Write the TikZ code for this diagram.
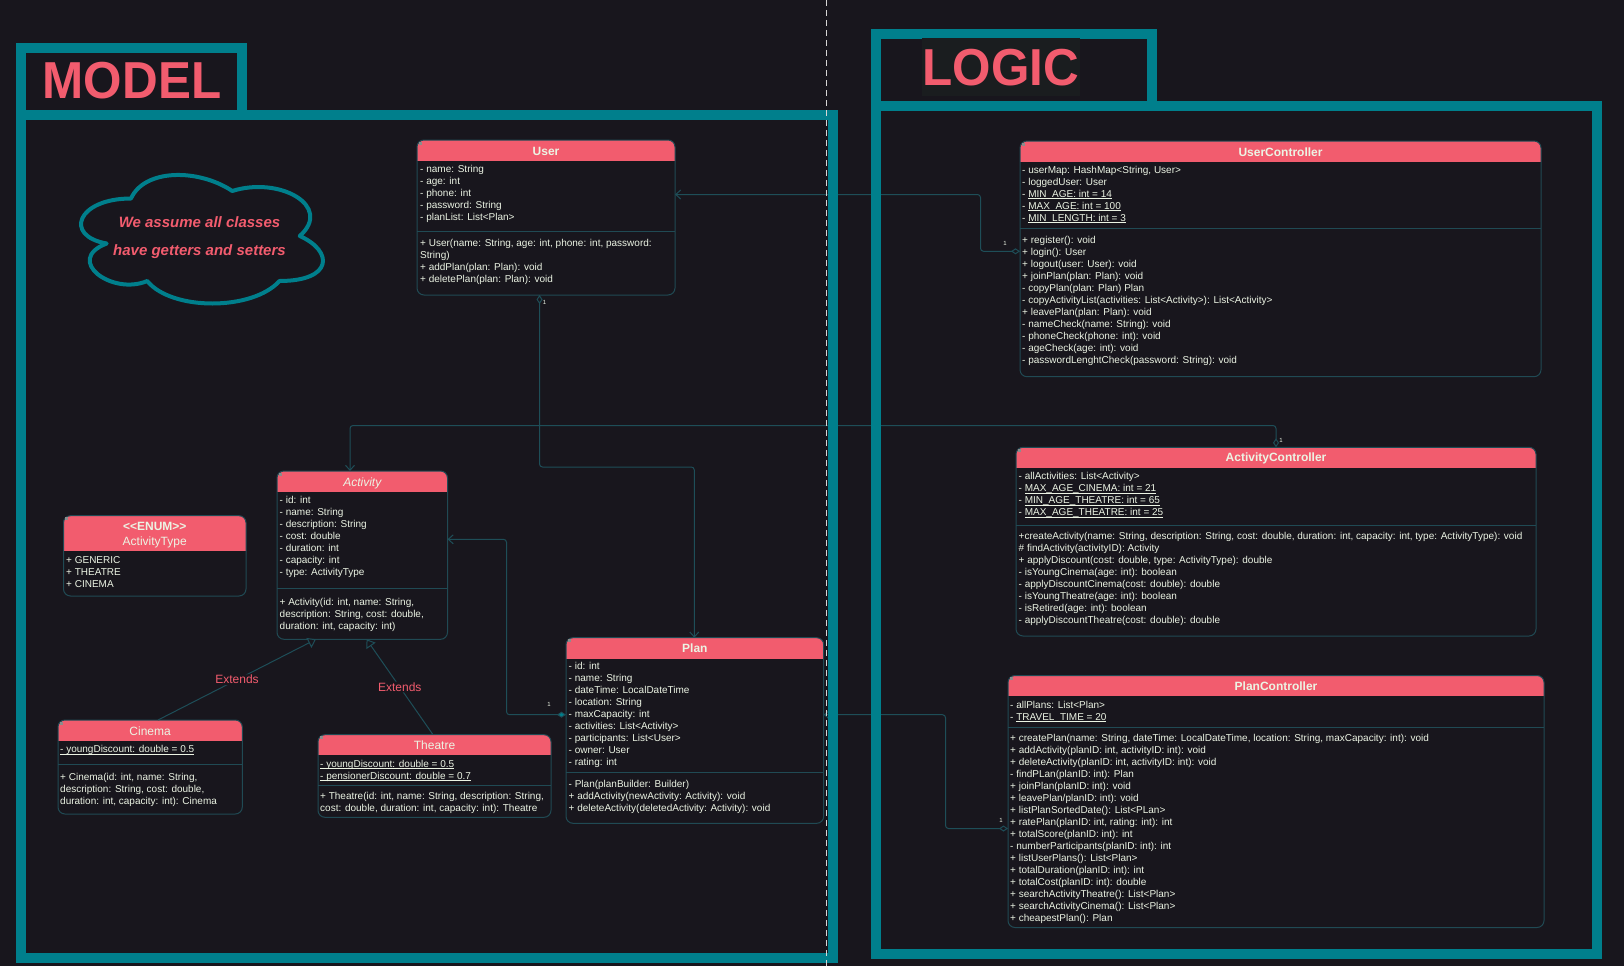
\documentclass[tikz,border=0pt]{standalone}
\usepackage{fontspec}
\setmainfont{Liberation Sans}
\usepackage{graphicx}
\usetikzlibrary{arrows.meta,fit,calc}
\definecolor{bgc}{RGB}{24,22,29}
\definecolor{tealc}{RGB}{0,127,140}
\definecolor{pinkc}{RGB}{242,92,110}
\definecolor{fgc}{RGB}{236,244,228}
\definecolor{bordc}{RGB}{32,74,84}
\definecolor{connc}{RGB}{30,78,88}
\definecolor{logicbg}{RGB}{26,29,31}
\definecolor{dashc}{RGB}{215,215,215}
\definecolor{collc}{RGB}{140,140,140}
\newcommand\ulx[1]{\setbox0\hbox{#1}\rlap{\rule[-1.4pt]{\wd0}{0.6pt}}\box0}
\tikzset{
  conn/.style={draw=connc, line width=1pt, rounded corners=3pt},
  agg/.style={conn, {Diamond[length=9pt,width=6pt,fill=bgc]}-{Straight Barb[length=5pt,width=9pt]}},
  comp/.style={conn, {Diamond[length=9pt,width=6pt,fill=tealc]}-{Straight Barb[length=5pt,width=9pt]}},
  gen/.style={conn, -{Triangle[length=8pt,width=11pt,fill=bgc]}},
  classbox/.style={draw=bordc, line width=1pt, rounded corners=7pt, inner sep=0pt, outer sep=0pt},
  sepl/.style={draw=bordc, line width=1pt},
  txt/.style={font=\fontsize{10}{12}\selectfont, text=fgc, align=left, inner sep=0pt, anchor=north west},
  ttl/.style={font=\fontsize{12}{14}\selectfont\bfseries, text=fgc, inner sep=0pt, anchor=base},
  ttln/.style={font=\fontsize{12}{14}\selectfont, text=fgc, inner sep=0pt, anchor=base},
  ttli/.style={font=\fontsize{12}{14}\selectfont\itshape, text=fgc, inner sep=0pt, anchor=base},
  mult/.style={font=\fontsize{6}{6}\selectfont, text=fgc, inner sep=0pt},
  lbl/.style={font=\fontsize{12}{14}\selectfont, text=pinkc, fill=bgc, inner sep=1pt},
  frame/.style={draw=tealc, line width=10pt},
  bigtitle/.style={font=\fontsize{52}{60}\selectfont\bfseries, text=pinkc, inner sep=0pt, anchor=base},
  notetxt/.style={font=\fontsize{15}{18}\selectfont\bfseries\itshape, text=pinkc, inner sep=0pt, anchor=base},
}
\newcommand\umlbox[6]{%
  \begin{scope}
    \clip (#2,#3) rectangle (#4,#6);
    \fill[pinkc, rounded corners=7pt] (#2,#3) rectangle (#4,#6+20);
  \end{scope}
  \node[classbox, fit={(#2,#3)(#4,#5)}] (#1) {};
  \fill[collc] (#2+1.5,#3+1.5) rectangle ++(3,3);
}
\begin{document}
\begin{tikzpicture}[x=1pt,y=-1pt]
\fill[bgc] (0,0) rectangle (1624,966);
\useasboundingbox (0,0) rectangle (1624,966);

% cloud note
\draw[tealc, line width=4pt, line join=round] (131,198.5) .. controls (77,198.5) and (63.5,236) .. (106.7,243.5) .. controls (63.5,260) and (112.1,296) .. (147.2,281) .. controls (171.5,311) and (252.5,311) .. (279.5,281) .. controls (333.5,281) and (333.5,251) .. (299.75,236) .. controls (333.5,206) and (279.5,176) .. (232.25,191) .. controls (198.5,168.5) and (144.5,168.5) .. (131,198.5) -- cycle;
\node[notetxt] (note1) at (199.5,227.4) {We assume all classes};
\node[notetxt] (note2) at (199.5,255.4) {have getters and setters};

% User
\umlbox{user}{417}{140}{675}{295}{160}
\draw[sepl] (417,231.7) -- (675,231.7);
\node[ttl] (user-t) at (546,155) {User};
\node[txt] (user-a) at (420,163.5) {\strut- name: String\\- age: int\\- phone: int\\- password: String\\- planList: List<Plan>};
\node[txt] (user-m) at (420,237.9) {\strut+ User(name: String, age: int, phone: int, password:\\String)\\+ addPlan(plan: Plan): void\\+ deletePlan(plan: Plan): void};

% UserController
\umlbox{uc}{1020}{141}{1541}{376.7}{161}
\draw[sepl] (1020,228.3) -- (1541,228.3);
\node[ttl] (uc-t) at (1280.5,156) {UserController};
\node[txt] (uc-a) at (1022,164.5) {\strut- userMap: HashMap<String, User>\\- loggedUser: User\\- \ulx{MIN\_AGE: int = 14}\\- \ulx{MAX\_AGE: int = 100}\\- \ulx{MIN\_LENGTH: int = 3}};
\node[txt] (uc-m) at (1022,234.5) {\strut+ register(): void\\+ login(): User\\+ logout(user: User): void\\+ joinPlan(plan: Plan): void\\- copyPlan(plan: Plan) Plan\\- copyActivityList(activities: List<Activity>): List<Activity>\\+ leavePlan(plan: Plan): void\\- nameCheck(name: String): void\\- phoneCheck(phone: int): void\\- ageCheck(age: int): void\\- passwordLenghtCheck(password: String): void};

% ActivityController
\umlbox{ac}{1016}{447.3}{1536}{636}{467.7}
\draw[sepl] (1016,525) -- (1536,525);
\node[ttl] (ac-t) at (1276,461.6) {ActivityController};
\node[txt] (ac-a) at (1018.5,471.2) {\strut- allActivities: List<Activity>\\- \ulx{MAX\_AGE\_CINEMA: int = 21}\\- \ulx{MIN\_AGE\_THEATRE: int = 65}\\- \ulx{MAX\_AGE\_THEATRE: int = 25}};
\node[txt] (ac-m) at (1018.5,530.9) {\strut+createActivity(name: String, description: String, cost: double, duration: int, capacity: int, type: ActivityType): void\\\# findActivity(activityID): Activity\\+ applyDiscount(cost: double, type: ActivityType): double\\- isYoungCinema(age: int): boolean\\- applyDiscountCinema(cost: double): double\\- isYoungTheatre(age: int): boolean\\- isRetired(age: int): boolean\\- applyDiscountTheatre(cost: double): double};

% PlanController
\umlbox{pc}{1008}{675.5}{1544}{927.5}{695}
\draw[sepl] (1008,727.3) -- (1544,727.3);
\node[ttl] (pc-t) at (1276,690) {PlanController};
\node[txt] (pc-a) at (1010,699.5) {\strut- allPlans: List<Plan>\\- \ulx{TRAVEL\_TIME = 20}};
\node[txt] (pc-m) at (1010,732.9) {\strut+ createPlan(name: String, dateTime: LocalDateTime, location: String, maxCapacity: int): void\\+ addActivity(planID: int, activityID: int): void\\+ deleteActivity(planID: int, activityID: int): void\\- findPLan(planID: int): Plan\\+ joinPlan(planID: int): void\\+ leavePlan/planID: int): void\\+ listPlanSortedDate(): List<PLan>\\+ ratePlan(planID: int, rating: int): int\\+ totalScore(planID: int): int\\- numberParticipants(planID: int): int\\+ listUserPlans(): List<Plan>\\+ totalDuration(planID: int): int\\+ totalCost(planID: int): double\\+ searchActivityTheatre(): List<Plan>\\+ searchActivityCinema(): List<Plan>\\+ cheapestPlan(): Plan};

% Activity
\umlbox{act}{277}{471}{447.5}{639.3}{491}
\draw[sepl] (277,588.3) -- (447.5,588.3);
\node[ttli] (act-t) at (362.25,486) {Activity};
\node[txt] (act-a) at (279.5,494.5) {\strut- id: int\\- name: String\\- description: String\\- cost: double\\- duration: int\\- capacity: int\\- type: ActivityType};
\node[txt] (act-m) at (279.5,596.9) {\strut+ Activity(id: int, name: String,\\description: String, cost: double,\\duration: int, capacity: int)};

% ActivityType enum
\umlbox{enum}{63.5}{515.7}{246}{596}{550}
\node[ttl] (enum-s) at (154.75,530.3) {<{}<ENUM>{}>};
\node[ttln] (enum-t) at (154.75,545) {ActivityType};
\node[txt] (enum-a) at (66,554.5) {\strut+ GENERIC\\+ THEATRE\\+ CINEMA};

% Cinema
\umlbox{cin}{58}{720}{242.3}{814}{740}
\draw[sepl] (58,764) -- (242.3,764);
\node[ttln] (cin-t) at (150.15,735) {Cinema};
\node[txt] (cin-a) at (60,744.2) {\strut\ulx{- youngDiscount: double = 0.5}};
\node[txt] (cin-m) at (60,771.9) {\strut+ Cinema(id: int, name: String,\\description: String, cost: double,\\duration: int, capacity: int): Cinema};

% Theatre
\umlbox{th}{318}{734.7}{551}{817.3}{754.3}
\draw[sepl] (318,785.3) -- (551,785.3);
\node[ttln] (th-t) at (434.5,749) {Theatre};
\node[txt] (th-a) at (320,758.9) {\strut\ulx{- youngDiscount: double = 0.5}\\\ulx{- pensionerDiscount: double = 0.7}};
\node[txt] (th-m) at (320,790.9) {\strut+ Theatre(id: int, name: String, description: String,\\cost: double, duration: int, capacity: int): Theatre};

% Plan
\umlbox{plan}{566}{637.7}{823.7}{823.3}{658.3}
\draw[sepl] (566,772.7) -- (823.7,772.7);
\node[ttl] (plan-t) at (694.85,652.6) {Plan};
\node[txt] (plan-a) at (568.5,661.2) {\strut- id: int\\- name: String\\- dateTime: LocalDateTime\\- location: String\\- maxCapacity: int\\- activities: List<Activity>\\- participants: List<User>\\- owner: User\\- rating: int};
\node[txt] (plan-m) at (568.5,778.9) {\strut- Plan(planBuilder: Builder)\\+ addActivity(newActivity: Activity): void\\+ deleteActivity(deletedActivity: Activity): void};

% attach points
\coordinate (ucA) at ($(uc.north west)+(0,110.3)$);
\coordinate (userA) at ($(user.north east)+(0,54.5)$);
\coordinate (userB) at ($(user.south west)+(122.5,0)$);
\coordinate (planB) at ($(plan.north west)+(128.3,0)$);
\coordinate (acA) at ($(ac.north west)+(260,0)$);
\coordinate (actA) at ($(act.north west)+(73,0)$);
\coordinate (planC) at ($(plan.north west)+(0,77)$);
\coordinate (actC) at ($(act.north east)+(0,68.3)$);
\coordinate (pcA) at ($(pc.north west)+(0,153)$);
\coordinate (planD) at ($(plan.north east)+(0,77)$);
\coordinate (cinA) at ($(cin.north west)+(100,0)$);
\coordinate (actG1) at ($(act.south west)+(39,0)$);
\coordinate (thA) at ($(th.north west)+(115,0)$);
\coordinate (actG2) at ($(act.south west)+(89.5,0)$);

% connectors
\draw[agg] (ucA) -- ++(-39.5,0) |- (userA);
\draw[agg] (userB) -- ++(0,172) -| (planB);
\draw[agg] (acA) -- ++(0,-21.8) -| (actA);
\draw[comp] (planC) -- ++(-59.5,0) |- (actC);
\draw[agg] (pcA) -- ++(-62.5,0) |- (planD);
\draw[gen] (cinA) -- node[lbl] (ext1) {Extends} (actG1);
\draw[gen] (thA) -- node[lbl] (ext2) {Extends} (actG2);

% multiplicities
\node[mult] (m1) at (1005,243.5) {1};
\node[mult] (m2) at (544.5,302) {1};
\node[mult] (m3) at (1281,440) {1};
\node[mult] (m4) at (549,704) {1};
\node[mult] (m5) at (1001,820) {1};

% frames
\draw[frame] (20.5,48.3) rectangle (242.3,115.3);
\draw[frame] (20.5,115.3) rectangle (832.5,957.5);
\draw[frame] (875.7,34.3) rectangle (1152,106);
\draw[frame] (875.7,106) rectangle (1597,954);
\fill[logicbg] (922,37.7) rectangle (1080,95.7);
\node[bigtitle] (model) at (132,98) {\scalebox{0.95}[1]{MODEL}};
\node[bigtitle] (logic) at (1001,85.5) {\scalebox{0.95}[1]{LOGIC}};

% separator dashed line
\draw[dashc, line width=1.5pt, dash pattern=on 6pt off 4pt] (826.5,0) -- (826.5,966);
\end{tikzpicture}
\end{document}
